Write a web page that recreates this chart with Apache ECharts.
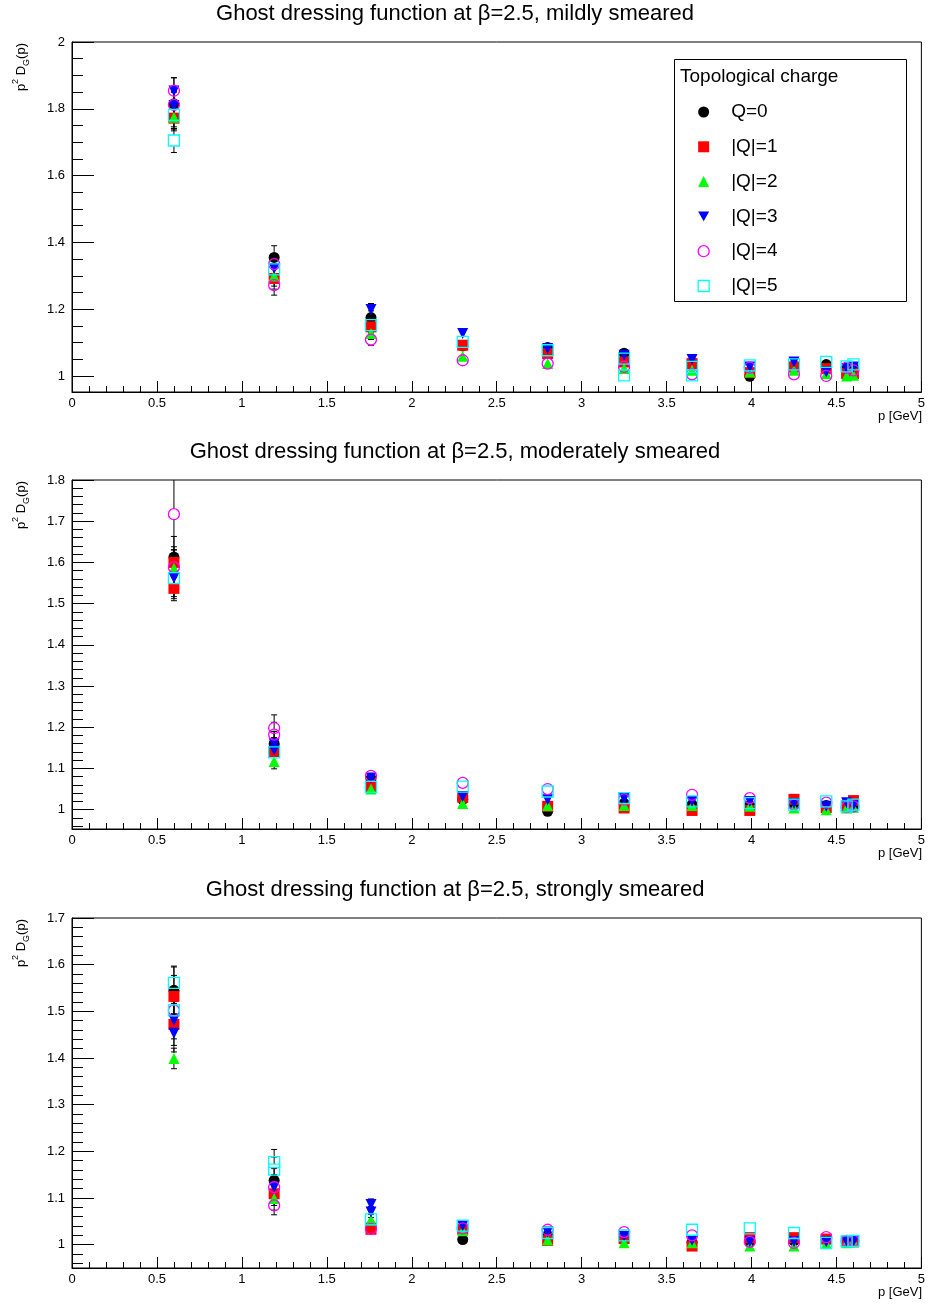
<!DOCTYPE html>
<html>
<head>
<meta charset="utf-8">
<script src="https://cdn.jsdelivr.net/npm/echarts@6/dist/echarts.min.js"></script>
<style>
html,body{margin:0;padding:0;background:#fff;}
#chart{width:928px;height:1304px;}
</style>
</head>
<body>
<div id="chart"></div>
<script>
// ---------------- data ----------------
const MOMENTA = [0.6, 1.19, 1.76, 2.30, 2.80, 3.25, 3.65, 3.99, 4.25, 4.44, 4.56, 4.60];
const MOMENTA_EXTRA = [0.6, 1.19, 1.76, 3.25, 3.65];
const Q_LABELS = ['Q=0', '|Q|=1', '|Q|=2', '|Q|=3', '|Q|=4', '|Q|=5'];
const X_TICKS = [0, 0.5, 1, 1.5, 2, 2.5, 3, 3.5, 4, 4.5, 5];
const TITLES = [
  'Ghost dressing function at \u03b2=2.5, mildly smeared',
  'Ghost dressing function at \u03b2=2.5, moderately smeared',
  'Ghost dressing function at \u03b2=2.5, strongly smeared'
];

// mildly smeared
const mild_Q0 = [1.815, 1.355, 1.175, 1.090, 1.085, 1.068, 1.040, 0.999, 1.030, 1.034, 1.020, 1.025];
const mild_Q1 = [1.772, 1.292, 1.147, 1.092, 1.067, 1.042, 1.037, 1.010, 1.027, 1.022, 1.007, 1.007];
const mild_Q2 = [1.775, 1.299, 1.127, 1.059, 1.037, 1.022, 1.017, 1.012, 1.017, 1.007, 1.000, 1.002];
const mild_Q3 = [1.853, 1.322, 1.199, 1.127, 1.082, 1.062, 1.049, 1.027, 1.042, 1.012, 1.022, 1.027];
const mild_Q4 = [1.854, 1.272, 1.109, 1.047, 1.037, 1.027, 1.005, 1.025, 1.005, 1.000, 1.025, 1.017];
const mild_Q5 = [1.782, 1.319, 1.152, 1.102, 1.077, 1.052, 1.027, 1.032, 1.035, 1.042, 1.029, 1.035];
const mild_Q0_err = [0.040, 0.035, 0.020, 0.016, 0.012, 0.008, 0.008, 0.007, 0.007, 0.008, 0.007, 0.007];
const mild_Q1_err = [0.038, 0.032, 0.018, 0.015, 0.011, 0.008, 0.007, 0.007, 0.007, 0.007, 0.007, 0.007];
const mild_Q2_err = [0.036, 0.030, 0.018, 0.014, 0.010, 0.008, 0.007, 0.006, 0.007, 0.007, 0.006, 0.006];
const mild_Q3_err = [0.040, 0.032, 0.018, 0.015, 0.011, 0.008, 0.008, 0.007, 0.007, 0.007, 0.007, 0.007];
const mild_Q4_err = [0.039, 0.030, 0.017, 0.014, 0.010, 0.008, 0.007, 0.007, 0.007, 0.007, 0.007, 0.007];
const mild_Q5_err = [0.036, 0.031, 0.018, 0.015, 0.011, 0.008, 0.008, 0.007, 0.007, 0.008, 0.007, 0.007];
const mild_Q0_extra = [null, null, null, null, null];
const mild_Q1_extra = [null, null, null, null, null];
const mild_Q2_extra = [null, null, null, null, null];
const mild_Q3_extra = [1.810, null, null, null, null];
const mild_Q4_extra = [1.812, 1.335, null, null, null];
const mild_Q5_extra = [1.705, null, null, 1.002, 1.002];

// moderately smeared
const mod_Q0 = [1.613, 1.160, 1.075, 1.025, 0.996, 1.015, 1.012, 1.010, 1.015, 1.010, 1.008, 1.010];
const mod_Q1 = [1.600, 1.141, 1.056, 1.030, 1.008, 1.004, 0.998, 0.998, 1.025, 1.005, 1.010, 1.022];
const mod_Q2 = [1.586, 1.117, 1.050, 1.015, 1.010, 1.010, 1.010, 1.008, 1.004, 1.000, 1.004, 1.006];
const mod_Q3 = [1.562, 1.160, 1.077, 1.032, 1.024, 1.027, 1.020, 1.020, 1.015, 1.008, 1.017, 1.010];
const mod_Q4 = [1.717, 1.198, 1.082, 1.065, 1.050, 1.025, 1.036, 1.028, 1.012, 1.017, 1.006, 1.008];
const mod_Q5 = [1.562, 1.139, 1.055, 1.056, 1.044, 1.028, 1.020, 1.016, 1.012, 1.020, 1.008, 1.012];
const mod_Q0_err = [0.050, 0.030, 0.010, 0.010, 0.008, 0.006, 0.006, 0.006, 0.006, 0.006, 0.006, 0.006];
const mod_Q1_err = [0.030, 0.028, 0.010, 0.010, 0.008, 0.006, 0.006, 0.006, 0.006, 0.006, 0.006, 0.006];
const mod_Q2_err = [0.045, 0.018, 0.010, 0.008, 0.007, 0.006, 0.006, 0.006, 0.006, 0.006, 0.006, 0.006];
const mod_Q3_err = [0.050, 0.030, 0.010, 0.010, 0.007, 0.006, 0.006, 0.006, 0.006, 0.006, 0.006, 0.006];
const mod_Q4_err = [0.120, 0.032, 0.010, 0.012, 0.008, 0.006, 0.006, 0.006, 0.006, 0.006, 0.006, 0.006];
const mod_Q5_err = [0.045, 0.028, 0.012, 0.010, 0.008, 0.006, 0.006, 0.006, 0.006, 0.006, 0.006, 0.006];
const mod_Q0_extra = [null, null, null, null, null];
const mod_Q1_extra = [1.537, null, null, null, null];
const mod_Q2_extra = [null, null, null, null, null];
const mod_Q3_extra = [null, 1.145, null, null, null];
const mod_Q4_extra = [1.588, 1.182, null, null, null];
const mod_Q5_extra = [null, null, null, null, null];
const mod_Q4_extra_err = [0.050, 0.030, null, null, null];

// strongly smeared
const str_Q0 = [1.545, 1.138, 1.040, 1.011, 1.020, 1.015, 1.005, 1.006, 1.008, 1.010, 1.007, 1.008];
const str_Q1 = [1.532, 1.109, 1.033, 1.033, 1.009, 1.013, 0.997, 1.015, 1.015, 1.012, 1.007, 1.006];
const str_Q2 = [1.399, 1.099, 1.053, 1.030, 1.010, 1.004, 1.004, 0.997, 0.997, 1.002, 1.004, 1.006];
const str_Q3 = [1.481, 1.123, 1.086, 1.040, 1.027, 1.018, 1.009, 1.006, 1.006, 1.006, 1.007, 1.007];
const str_Q4 = [1.502, 1.123, 1.034, 1.035, 1.032, 1.027, 1.020, 1.006, 1.004, 1.016, 1.008, 1.008];
const str_Q5 = [1.561, 1.177, 1.054, 1.041, 1.025, 1.020, 1.032, 1.035, 1.025, 1.004, 1.007, 1.008];
const str_Q0_err = [0.050, 0.025, 0.012, 0.008, 0.007, 0.006, 0.006, 0.006, 0.006, 0.006, 0.006, 0.006];
const str_Q1_err = [0.045, 0.025, 0.010, 0.008, 0.007, 0.006, 0.006, 0.006, 0.006, 0.006, 0.006, 0.006];
const str_Q2_err = [0.022, 0.025, 0.012, 0.008, 0.007, 0.006, 0.006, 0.006, 0.006, 0.006, 0.006, 0.006];
const str_Q3_err = [0.040, 0.022, 0.012, 0.008, 0.007, 0.006, 0.006, 0.006, 0.006, 0.006, 0.006, 0.006];
const str_Q4_err = [0.040, 0.020, 0.010, 0.008, 0.007, 0.006, 0.006, 0.006, 0.006, 0.006, 0.006, 0.006];
const str_Q5_err = [0.036, 0.027, 0.012, 0.008, 0.007, 0.006, 0.006, 0.006, 0.006, 0.006, 0.006, 0.006];
const str_Q0_extra = [null, null, null, null, null];
const str_Q1_extra = [1.472, null, null, null, null];
const str_Q2_extra = [null, null, null, null, null];
const str_Q3_extra = [1.453, null, 1.070, null, null];
const str_Q4_extra = [null, 1.084, null, null, null];
const str_Q5_extra = [1.502, 1.161, null, null, null];

// ---------------- assembly ----------------
const NO_EXTRA_ERR = [null, null, null, null, null];
const PANELS = [
  { vals: [mild_Q0, mild_Q1, mild_Q2, mild_Q3, mild_Q4, mild_Q5],
    errs: [mild_Q0_err, mild_Q1_err, mild_Q2_err, mild_Q3_err, mild_Q4_err, mild_Q5_err],
    extra: [mild_Q0_extra, mild_Q1_extra, mild_Q2_extra, mild_Q3_extra, mild_Q4_extra, mild_Q5_extra],
    extraErr: [NO_EXTRA_ERR, NO_EXTRA_ERR, NO_EXTRA_ERR, NO_EXTRA_ERR, NO_EXTRA_ERR, NO_EXTRA_ERR],
    ymin: 0.952, ymax: 2, split: 5, minor: 4, top: 42, height: 350 },
  { vals: [mod_Q0, mod_Q1, mod_Q2, mod_Q3, mod_Q4, mod_Q5],
    errs: [mod_Q0_err, mod_Q1_err, mod_Q2_err, mod_Q3_err, mod_Q4_err, mod_Q5_err],
    extra: [mod_Q0_extra, mod_Q1_extra, mod_Q2_extra, mod_Q3_extra, mod_Q4_extra, mod_Q5_extra],
    extraErr: [NO_EXTRA_ERR, NO_EXTRA_ERR, NO_EXTRA_ERR, NO_EXTRA_ERR, mod_Q4_extra_err, NO_EXTRA_ERR],
    ymin: 0.953, ymax: 1.8, split: 8, minor: 5, top: 480, height: 349 },
  { vals: [str_Q0, str_Q1, str_Q2, str_Q3, str_Q4, str_Q5],
    errs: [str_Q0_err, str_Q1_err, str_Q2_err, str_Q3_err, str_Q4_err, str_Q5_err],
    extra: [str_Q0_extra, str_Q1_extra, str_Q2_extra, str_Q3_extra, str_Q4_extra, str_Q5_extra],
    extraErr: [NO_EXTRA_ERR, NO_EXTRA_ERR, NO_EXTRA_ERR, NO_EXTRA_ERR, NO_EXTRA_ERR, NO_EXTRA_ERR],
    ymin: 0.95, ymax: 1.7, split: 7, minor: 5, top: 918, height: 350 }
];

const COLORS = ['#000000', '#ff0000', '#00ff00', '#0000ff', '#ff00ff', '#00ffff'];
const FONT = 'Liberation Sans, Arial, Helvetica, sans-serif';
const MSIZE = 11;

function markerStyle(q) {
  const c = COLORS[q];
  switch (q) {
    case 0: return { symbol: 'circle', rot: 0, style: { color: c } };
    case 1: return { symbol: 'rect', rot: 0, style: { color: c } };
    case 2: return { symbol: 'triangle', rot: 0, style: { color: c } };
    case 3: return { symbol: 'triangle', rot: 180, style: { color: c } };
    case 4: return { symbol: 'circle', rot: 0, style: { color: 'rgba(255,255,255,0)', borderColor: c, borderWidth: 1.3 } };
    default: return { symbol: 'rect', rot: 0, style: { color: 'rgba(255,255,255,0)', borderColor: c, borderWidth: 1.3 } };
  }
}

function errRender(params, api) {
  const x = api.value(0), y = api.value(1), e = api.value(2);
  const c = api.coord([x, y]);
  const t = api.coord([x, y + e]);
  const b = api.coord([x, y - e]);
  const cs = params.coordSys;
  const h = MSIZE / 2;
  const cap = 3;
  const st = { stroke: '#000', lineWidth: 1 };
  const ch = [];
  const topY = Math.max(t[1], cs.y);
  const botY = Math.min(b[1], cs.y + cs.height);
  if (c[1] - topY > h) {
    ch.push({ type: 'line', shape: { x1: c[0], y1: c[1] - h, x2: c[0], y2: topY }, style: st });
    if (t[1] >= cs.y) ch.push({ type: 'line', shape: { x1: c[0] - cap, y1: t[1], x2: c[0] + cap, y2: t[1] }, style: st });
  }
  if (botY - c[1] > h) {
    ch.push({ type: 'line', shape: { x1: c[0], y1: c[1] + h, x2: c[0], y2: botY }, style: st });
    if (b[1] <= cs.y + cs.height) ch.push({ type: 'line', shape: { x1: c[0] - cap, y1: b[1], x2: c[0] + cap, y2: b[1] }, style: st });
  }
  return { type: 'group', children: ch };
}

const grids = [], xAxes = [], yAxes = [], series = [], graphics = [];

PANELS.forEach((p, pi) => {
  grids.push({ left: 72, right: 6, top: p.top, height: p.height, show: true,
               borderColor: '#000', borderWidth: 1, backgroundColor: 'transparent' });
  xAxes.push({
    type: 'value', gridIndex: pi, min: X_TICKS[0], max: X_TICKS[X_TICKS.length - 1], interval: 0.5,
    axisLine: { lineStyle: { color: '#000', width: 1 } },
    axisTick: { inside: true, length: 11, lineStyle: { color: '#000' } },
    minorTick: { show: true, splitNumber: 5, length: 6, lineStyle: { color: '#000' } },
    splitLine: { show: false },
    axisLabel: { color: '#000', fontSize: 13, fontFamily: FONT, margin: 5 }
  });
  yAxes.push({
    type: 'value', gridIndex: pi, min: p.ymin, max: p.ymax, splitNumber: p.split,
    axisLine: { lineStyle: { color: '#000', width: 1 } },
    axisTick: { inside: true, length: 22, lineStyle: { color: '#000' } },
    minorTick: { show: true, splitNumber: p.minor, length: 11, lineStyle: { color: '#000' } },
    splitLine: { show: false },
    axisLabel: {
      color: '#000', fontSize: 13, fontFamily: FONT, margin: 7, showMinLabel: false,
      formatter: v => (Math.abs(v * 10 - Math.round(v * 10)) > 1e-6 ? '' : String(+v.toFixed(1)))
    }
  });

  for (let q = 0; q < 6; q++) {
    const data = MOMENTA.map((x, i) => [x, p.vals[q][i], p.errs[q][i]]);
    MOMENTA_EXTRA.forEach((x, k) => {
      const v = p.extra[q][k];
      if (v !== null) {
        const idx = MOMENTA.indexOf(x);
        const e = p.extraErr[q][k] !== null ? p.extraErr[q][k] : p.errs[q][idx];
        data.push([x, v, e]);
      }
    });
    series.push({
      type: 'custom', name: 'err' + pi + '_' + q, xAxisIndex: pi, yAxisIndex: pi,
      renderItem: errRender, data: data, silent: true, animation: false
    });
    const ms = markerStyle(q);
    series.push({
      type: 'scatter', name: Q_LABELS[q], xAxisIndex: pi, yAxisIndex: pi,
      symbol: ms.symbol, symbolRotate: ms.rot, symbolSize: MSIZE, symbolKeepAspect: true,
      itemStyle: Object.assign({ opacity: 1 }, ms.style),
      data: data.map(d => [d[0], d[1]]), animation: false
    });
  }

  graphics.push({
    type: 'text', x: 455, y: p.top - 28,
    style: { text: TITLES[pi], font: '22px ' + FONT, fill: '#000', align: 'center', verticalAlign: 'middle' }
  });
  graphics.push({
    type: 'text', x: 922, y: p.top + p.height + 24,
    style: { text: 'p [GeV]', font: '13px ' + FONT, fill: '#000', align: 'right', verticalAlign: 'middle' }
  });
  graphics.push({
    type: 'text', x: 21, y: p.top + 1, rotation: Math.PI / 2,
    style: {
      text: '{n|p}{sup|2}{n| D}{sub|G}{n|(p)}', align: 'right', verticalAlign: 'middle',
      rich: {
        n: { fontSize: 13, fontFamily: FONT, fill: '#000', lineHeight: 20, verticalAlign: 'middle' },
        sup: { fontSize: 9, fontFamily: FONT, fill: '#000', lineHeight: 9, verticalAlign: 'top' },
        sub: { fontSize: 9, fontFamily: FONT, fill: '#000', lineHeight: 9, verticalAlign: 'bottom' }
      }
    }
  });
});

// legend box and header
graphics.push({
  type: 'rect', shape: { x: 674.5, y: 59.5, width: 232, height: 242 },
  style: { fill: '#fff', stroke: '#000', lineWidth: 1 }, z: -1
});
graphics.push({
  type: 'text', x: 680, y: 77,
  style: { text: 'Topological charge', font: '19px ' + FONT, fill: '#000', align: 'left', verticalAlign: 'middle' }
});

const legendData = Q_LABELS.map((n, q) => {
  const ms = markerStyle(q);
  const item = { name: n, itemStyle: Object.assign({}, ms.style, { borderWidth: ms.style.borderWidth || 0 }) };
  if (q === 3) item.icon = 'path://M0,0 L10,0 L5,9 Z';
  return item;
});

const chart = echarts.init(document.getElementById('chart'), null, { renderer: 'canvas' });
chart.setOption({
  backgroundColor: '#fff',
  animation: false,
  grid: grids,
  xAxis: xAxes,
  yAxis: yAxes,
  legend: {
    data: legendData, orient: 'vertical', left: 697.5, top: 102, padding: 0,
    itemWidth: 11, itemHeight: 11, itemGap: 14.8, symbolKeepAspect: true,
    textStyle: { fontSize: 19, fontFamily: FONT, color: '#000', lineHeight: 20, padding: [0, 0, 0, 17] },
    selectedMode: false
  },
  graphic: graphics,
  series: series
});
</script>
</body>
</html>
